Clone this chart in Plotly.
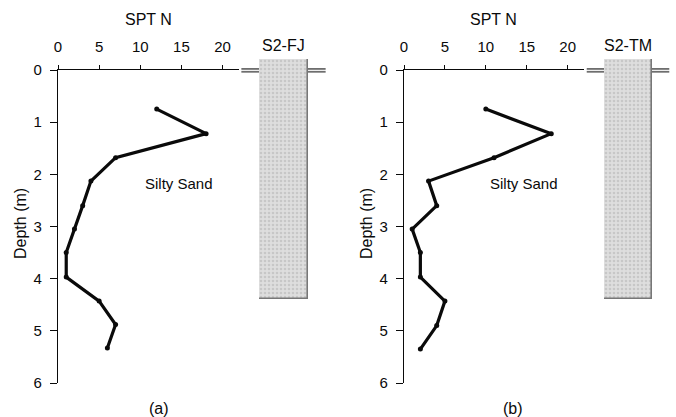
import plotly.graph_objects as go

# ---- data ----
depth_a = [0.75, 1.22, 1.68, 2.13, 2.60, 3.05, 3.50, 3.97, 4.43, 4.88, 5.33]
spt_a = [12, 18, 7, 4, 3, 2, 1, 1, 5, 7, 6]
depth_b = [0.75, 1.22, 1.68, 2.13, 2.60, 3.05, 3.50, 3.97, 4.43, 4.90, 5.35]
spt_b = [10, 18, 11, 3, 4, 1, 2, 2, 5, 4, 2]
x_ticks = [0, 5, 10, 15, 20]
y_ticks = [0, 1, 2, 3, 4, 5, 6]
column_top = -0.21
column_bottom = 4.39
borehole_names = ["S2-FJ", "S2-TM"]
soil_label = "Silty Sand"
panel_labels = ["(a)", "(b)"]

W, H = 676, 417
FONT = "Liberation Sans, Arial, sans-serif"
INK = "#0a0a0a"

def px(v):
    return v / W

def py(v):
    return 1 - v / H

fig = go.Figure()

panels = [
    dict(spt=spt_a, depth=depth_a, x0=58, x1=239, cx0=259, cx1=308, xa="x", ya="y", cxa="x2", cya="y2"),
    dict(spt=spt_b, depth=depth_b, x0=404, x1=584, cx0=604, cx1=652, xa="x3", ya="y3", cxa="x4", cya="y4"),
]

layout = {}
annotations = []
shapes = []
for i, p in enumerate(panels):
    fig.add_trace(go.Scatter(
        x=p["spt"], y=p["depth"], mode="lines+markers",
        line=dict(color=INK, width=3.2), marker=dict(color=INK, size=5),
        xaxis=p["xa"], yaxis=p["ya"], showlegend=False, hoverinfo="skip"))
    fig.add_trace(go.Bar(
        x=[0.5], y=[column_bottom - column_top], base=[column_top], width=[1],
        marker=dict(color="#d6d6d6", line=dict(color="#777777", width=1.6),
                    pattern=dict(shape=".", fgcolor="#b0b0b0", bgcolor="#dedede", size=4, solidity=0.35)),
        xaxis=p["cxa"], yaxis=p["cya"], showlegend=False, hoverinfo="skip"))

    xk = "xaxis" if i == 0 else "xaxis3"
    yk = "yaxis" if i == 0 else "yaxis3"
    cxk = "xaxis2" if i == 0 else "xaxis4"
    cyk = "yaxis2" if i == 0 else "yaxis4"
    layout[xk] = dict(domain=[px(p["x0"]), px(p["x1"])], range=[0, 22], side="top",
                      anchor=p["ya"], tickvals=x_ticks, ticks="outside", ticklen=4,
                      tickcolor=INK, showline=True, linecolor=INK, linewidth=1.2,
                      showgrid=False, zeroline=False, ticklabelstandoff=7, automargin=False,
                      tickfont=dict(family=FONT, size=15, color=INK))
    layout[yk] = dict(domain=[py(383), py(70)], range=[6, 0], anchor=p["xa"],
                      tickvals=y_ticks, ticks="outside", ticklen=7, tickcolor=INK,
                      showline=True, linecolor=INK, linewidth=1.2, showgrid=False,
                      zeroline=False, ticklabelstandoff=5, automargin=False,
                      tickfont=dict(family=FONT, size=15, color=INK))
    layout[cxk] = dict(domain=[px(p["cx0"]), px(p["cx1"])], range=[0, 1], anchor=p["cya"],
                       visible=False)
    layout[cyk] = dict(domain=[py(383), py(59)], range=[6, column_top], anchor=p["cxa"],
                       visible=False)

    for (a, b) in [(-0.36, 0.0), (1.0, 1.36)]:
        for d in (-0.02, 0.035):
            shapes.append(dict(type="line", xref=p["cxa"] + " domain", yref=p["cya"],
                               x0=a, x1=b, y0=d, y1=d, line=dict(color="#6e6e6e", width=1.8),
                               layer="below"))

    cx = (p["x0"] + p["x1"]) / 2
    common = dict(xref="paper", yref="paper", showarrow=False, xanchor="center", yanchor="middle")
    annotations += [
        dict(text="SPT N", x=px(cx), y=py(19), font=dict(family=FONT, size=16, color=INK), **common),
        dict(text=borehole_names[i], x=px((p["cx0"] + p["cx1"]) / 2), y=py(45),
             font=dict(family=FONT, size=16, color=INK), **common),
        dict(text="Depth (m)", x=px(p["x0"] - 38), y=py(224), textangle=-90,
             font=dict(family=FONT, size=16, color=INK), **common),
        dict(text=panel_labels[i], x=px(159 if i == 0 else 513), y=py(408),
             font=dict(family=FONT, size=16, color=INK), **common),
        dict(text=soil_label, x=14.7, y=2.18, xref=p["xa"], yref=p["ya"], showarrow=False,
             xanchor="center", yanchor="middle", font=dict(family=FONT, size=15, color=INK)),
    ]

fig.update_layout(
    width=W, height=H, margin=dict(l=0, r=0, t=0, b=0, autoexpand=False),
    paper_bgcolor="white", plot_bgcolor="rgba(0,0,0,0)",
    annotations=annotations, shapes=shapes, bargap=0, **layout)

fig.write_html("out.html")
